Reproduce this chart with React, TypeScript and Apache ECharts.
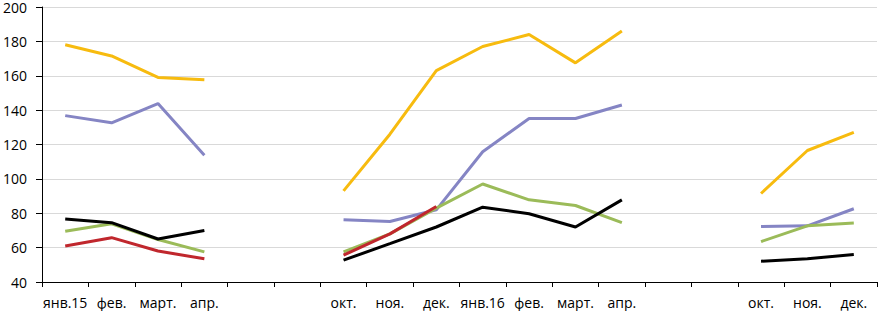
import React, { useEffect, useRef } from "react";
import * as echarts from "echarts";

const categories = ["янв.15", "фев.", "март.", "апр.", "", "", "окт.", "ноя.", "дек.", "янв.16", "фев.", "март.", "апр.", "", "", "окт.", "ноя.", "дек."];

const yellowValues = [178, 171.5, 159, 157.7, null, null, 93, 126, 163, 177, 184, 167.5, 186, null, null, 91.5, 116.5, 127];
const purpleValues = [136.8, 132.6, 143.8, 113.7, null, null, 76.2, 75.2, 82, 115.8, 135.1, 135.1, 143, null, null, 72.3, 72.7, 82.6];
const greenValues = [69.5, 73.9, 64.7, 57.5, null, null, 57.5, 68, 83, 97, 87.8, 84.5, 74.5, null, null, 63.5, 72.7, 74.3];
const blackValues = [76.6, 74.5, 65, 70, null, null, 52.7, 62.3, 72, 83.5, 79.7, 72, 87.8, null, null, 52.1, 53.5, 56];
const redValues = [61, 65.8, 58, 53.5, null, null, 55.6, 68, 83.9, null, null, null, null, null, null, null, null, null];

const yTicks = { min: 40, max: 200, interval: 20 };

export default function App() {
  const ref = useRef<HTMLDivElement>(null);
  useEffect(() => {
    if (!ref.current) return;
    const chart = echarts.init(ref.current, undefined, { renderer: "svg" });
    const mk = (name: string, data: (number | null)[], color: string) => ({
      name,
      type: "line",
      data,
      symbol: "none",
      connectNulls: false,
      lineStyle: { color, width: 3 },
      itemStyle: { color },
    });
    chart.setOption({
      animation: false,
      backgroundColor: "#ffffff",
      textStyle: { fontFamily: "Open Sans" },
      grid: { left: 40, right: 1, top: 5, bottom: 29, containLabel: false },
      xAxis: {
        type: "category",
        data: categories,
        boundaryGap: true,
        axisLine: { lineStyle: { color: "#000000", width: 1 } },
        axisTick: { show: true, interval: 0, length: 5, lineStyle: { color: "#000000" } },
        axisLabel: { interval: 0, color: "#000000", fontSize: 14, margin: 13, fontFamily: "Open Sans" },
        splitLine: { show: false },
      },
      yAxis: {
        type: "value",
        min: yTicks.min,
        max: yTicks.max,
        interval: yTicks.interval,
        axisLine: { show: true, lineStyle: { color: "#000000", width: 1 } },
        axisTick: { show: true, length: 6, lineStyle: { color: "#000000" } },
        axisLabel: { color: "#000000", fontSize: 14, margin: 15, fontFamily: "Open Sans" },
        splitLine: { show: true, lineStyle: { color: "#d9d9d9", width: 1 } },
      },
      series: [
        mk("yellow", yellowValues, "#F7BB0F"),
        mk("purple", purpleValues, "#8585C4"),
        mk("green", greenValues, "#9BBB59"),
        mk("black", blackValues, "#000000"),
        mk("red", redValues, "#C0272D"),
      ],
    });
    return () => chart.dispose();
  }, []);
  return <div ref={ref} style={{ width: 878, height: 311, position: "absolute", left: 0, top: 0 }} />;
}
